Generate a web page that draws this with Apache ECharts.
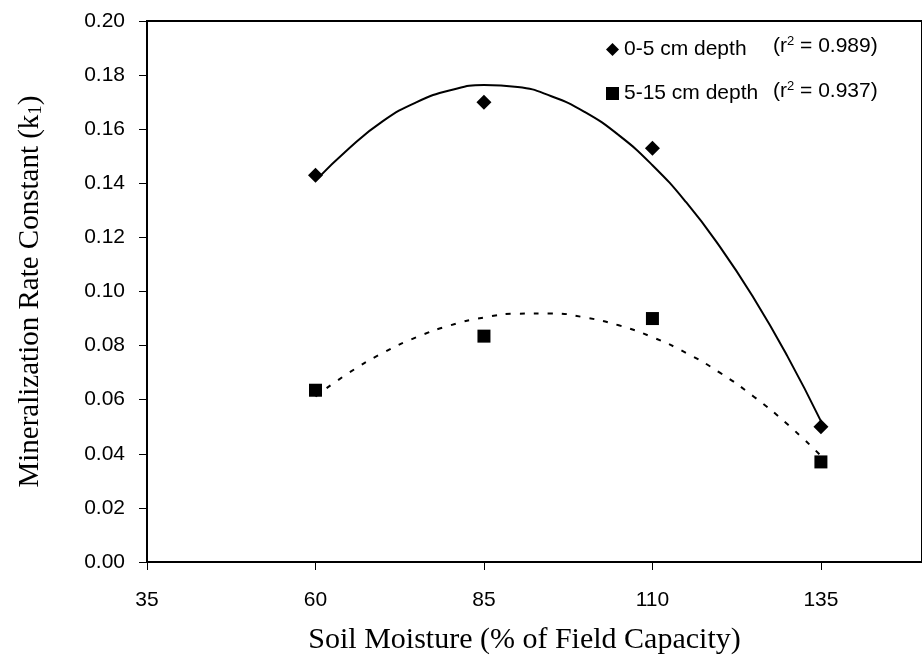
<!DOCTYPE html>
<html><head><meta charset="utf-8">
<script src="https://cdn.jsdelivr.net/npm/echarts@6/dist/echarts.min.js"></script>
<style>html,body{margin:0;padding:0;background:#fff}#c{width:922px;height:664px}</style>
</head><body><div id="c"></div>
<script>
// Observed data points
const moisture = [60, 85, 110, 135];
const depth0to5 = [0.143, 0.170, 0.153, 0.050];
const depth5to15 = [0.0635, 0.0835, 0.090, 0.037];
// Trend curves
const curveX = [60, 65, 70, 75, 80, 85, 90, 95, 100, 105, 110, 115, 120, 125, 130, 135];
const curve0to5 = [0.141, 0.153, 0.163, 0.170, 0.1744, 0.1763, 0.1756, 0.1722, 0.1663, 0.1578, 0.1467, 0.1330, 0.1166, 0.0977, 0.0762, 0.0521];
const curve5to15 = [0.0612, 0.0700, 0.0773, 0.0831, 0.0875, 0.0904, 0.0918, 0.0919, 0.0904, 0.0875, 0.0831, 0.0773, 0.0700, 0.0612, 0.0510, 0.0393];
const xTicks = [35, 60, 85, 110, 135];
const seriesNames = ['0-5 cm depth', '5-15 cm depth'];
const rSquared = ['0.989', '0.937'];

const pair = (xs, ys) => xs.map((x, i) => [x, ys[i]]);
const sans = 'Liberation Sans, Arial, sans-serif';
const serif = 'Liberation Serif, Times New Roman, serif';

const chart = echarts.init(document.getElementById('c'), null, {renderer: 'canvas'});
chart.setOption({
  animation: false,
  backgroundColor: '#fff',
  grid: {left: 147, top: 21, right: -8, bottom: 102, show: true, borderColor: '#000', borderWidth: 2, backgroundColor: 'transparent'},
  legend: {
    data: seriesNames, orient: 'vertical', left: 601, top: 34, itemGap: 23,
    itemWidth: 13, itemHeight: 13, itemStyle: {color: '#000'},
    textStyle: {fontFamily: sans, fontSize: 21, color: '#000'}
  },
  graphic: rSquared.map((r, i) => ({
    type: 'text', left: 773, top: 35 + i * 45,
    style: {
      text: '(r{s|2} = ' + r + ')', fill: '#000', fontFamily: sans, fontSize: 21,
      rich: {s: {fontSize: 13, fontFamily: sans, fill: '#000', verticalAlign: 'top', padding: [0, 0, 9, 0]}}
    }
  })),
  xAxis: {
    type: 'value', min: 35, max: 150,
    name: 'Soil Moisture (% of Field Capacity)', nameLocation: 'middle', nameGap: 63,
    nameTextStyle: {fontFamily: serif, fontSize: 30, color: '#000', padding: [0, 20, 0, 0]},
    axisLine: {show: true, lineStyle: {color: '#000', width: 2}},
    axisTick: {show: true, inside: false, length: 8, customValues: xTicks, lineStyle: {color: '#000', width: 1}},
    axisLabel: {customValues: xTicks, fontFamily: sans, fontSize: 21, color: '#000', margin: 28},
    splitLine: {show: false}
  },
  yAxis: {
    type: 'value', min: 0, max: 0.2, interval: 0.02,
    name: 'Mineralization Rate Constant (k{sub|1})', nameLocation: 'middle', nameGap: 101,
    nameTextStyle: {fontFamily: serif, fontSize: 29, color: '#000',
      rich: {sub: {fontFamily: serif, fontSize: 19, color: '#000', verticalAlign: 'bottom', padding: [12, 0, 0, 0]}}},
    axisLine: {show: true, lineStyle: {color: '#000', width: 2}},
    axisTick: {show: true, inside: false, length: 8, lineStyle: {color: '#000', width: 1}},
    axisLabel: {fontFamily: sans, fontSize: 21, color: '#000', margin: 22, formatter: v => v.toFixed(2)},
    splitLine: {show: false}
  },
  series: [
    {name: 'fit0', type: 'line', data: pair(curveX, curve0to5), smooth: true, showSymbol: false, silent: true,
      lineStyle: {color: '#000', width: 2}, z: 2},
    {name: 'fit1', type: 'line', data: pair(curveX, curve5to15), smooth: true, showSymbol: false, silent: true,
      lineStyle: {color: '#000', width: 2, type: [5, 9]}, z: 2},
    {name: seriesNames[0], type: 'scatter', data: pair(moisture, depth0to5), symbol: 'diamond', symbolSize: 15,
      itemStyle: {color: '#000', opacity: 1}, z: 3},
    {name: seriesNames[1], type: 'scatter', data: pair(moisture, depth5to15), symbol: 'rect', symbolSize: 13,
      itemStyle: {color: '#000', opacity: 1}, z: 3}
  ]
});
</script></body></html>
